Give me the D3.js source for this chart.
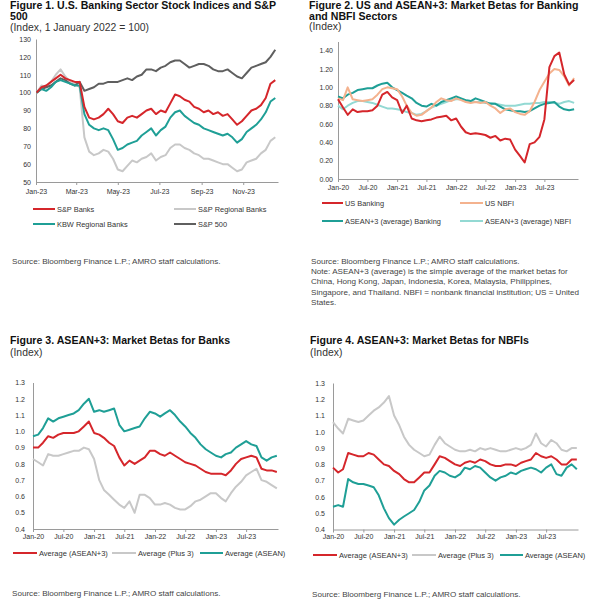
<!DOCTYPE html>
<html><head><meta charset="utf-8">
<script src="https://cdn.jsdelivr.net/npm/d3@7"></script>
<style>
body{margin:0;background:#fff}
svg{display:block}
text{font-family:"Liberation Sans",Arial,Helvetica,sans-serif}
</style>
</head><body>
<svg id="c" width="600" height="600"></svg>
<script>
// ---------- Figure 1 data (weekly, 2023; index 1 Jan 2022 = 100) ----------
const fig1Start = new Date(2023, 0, 2);
const fig1SPBanks = [100,103,104,106,108,110,108,107,106,106,92,86,85,86,88,91,88,84,83,86,87,86,88,90,91,88,90,89,94,99,98,96,95,92,91,89,90,88,89,87,88,85,82,84,87,90,91,93,97,105,107];
const fig1KBW = [100,102,101,103,106,107,106,105,104,104,88,82,80,79,80,79,74,68,69,71,72,73,76,78,80,76,79,81,86,89,90,87,85,83,82,80,79,78,77,76,77,75,72,74,78,80,82,85,89,95,97];
const fig1SPRegional = [100,104,103,106,110,113,109,106,105,103,75,67,65,66,68,67,63,57,56,59,62,61,63,64,66,62,64,65,69,71,71,69,68,66,65,63,63,62,61,60,60,58,56,57,61,62,63,66,68,73,75];
const fig1SP500 = [100,102,103,104,106,108,107,105,104,106,101,102,103,105,105,106,106,106,107,108,107,109,110,113,113,112,114,115,117,118,118,116,114,115,116,116,115,113,112,112,113,111,109,108,111,114,115,116,117,120,124];
const fig1YTicks = [50,60,70,80,90,100,110,120,130];
const fig1XTicks = ["2023-01-01","2023-03-01","2023-05-01","2023-07-01","2023-09-01","2023-11-01"];

// ---------- Figure 2 data (monthly, Jan 2020 - Jan 2024) ----------
const fig2USBanking = [0.87,0.78,0.70,0.76,0.73,0.74,0.74,0.75,0.80,0.92,0.95,0.89,0.86,0.72,0.80,0.66,0.64,0.63,0.64,0.65,0.67,0.68,0.69,0.64,0.66,0.57,0.51,0.49,0.50,0.49,0.48,0.45,0.47,0.42,0.44,0.43,0.32,0.25,0.18,0.38,0.40,0.46,0.65,1.22,1.34,1.38,1.14,1.03,1.08];
const fig2USNBFI = [0.88,0.86,1.00,0.87,0.86,0.85,0.86,0.87,0.92,0.98,1.00,0.99,0.98,0.90,0.80,0.72,0.69,0.70,0.74,0.78,0.84,0.88,0.86,0.85,0.88,0.86,0.84,0.83,0.84,0.83,0.84,0.80,0.77,0.72,0.76,0.77,0.73,0.71,0.70,0.74,0.84,0.97,1.06,1.15,1.20,1.19,1.12,1.02,1.10];
const fig2ASEANBanking = [0.90,0.88,0.92,0.94,0.97,0.98,0.99,0.99,1.02,1.04,1.05,1.00,0.97,0.94,0.91,0.88,0.83,0.80,0.79,0.82,0.80,0.84,0.86,0.88,0.90,0.88,0.86,0.85,0.88,0.86,0.84,0.82,0.82,0.79,0.76,0.75,0.74,0.74,0.73,0.74,0.77,0.80,0.82,0.83,0.84,0.79,0.76,0.75,0.76];
const fig2ASEANNBFI = [0.80,0.76,0.80,0.83,0.85,0.85,0.84,0.83,0.81,0.79,0.77,0.77,0.76,0.75,0.73,0.72,0.70,0.71,0.74,0.78,0.80,0.82,0.84,0.86,0.87,0.87,0.86,0.85,0.84,0.84,0.83,0.83,0.82,0.81,0.80,0.80,0.80,0.81,0.82,0.82,0.83,0.83,0.84,0.84,0.83,0.82,0.84,0.85,0.83];
const fig2YTicks = [0,0.2,0.4,0.6,0.8,1.0,1.2,1.4];

// ---------- Figure 3 data: banks (monthly) ----------
const fig3AseanPlus3 = [0.90,0.90,0.93,0.97,0.96,0.98,0.99,0.99,0.99,1.00,1.03,1.06,0.99,0.98,0.96,0.93,0.91,0.84,0.79,0.82,0.80,0.82,0.84,0.88,0.88,0.86,0.85,0.87,0.85,0.83,0.81,0.80,0.79,0.77,0.75,0.74,0.74,0.74,0.73,0.76,0.80,0.83,0.84,0.85,0.84,0.77,0.76,0.76,0.75];
const fig3Plus3 = [0.83,0.81,0.79,0.86,0.85,0.85,0.86,0.87,0.88,0.88,0.90,0.89,0.83,0.70,0.64,0.61,0.58,0.55,0.53,0.57,0.50,0.61,0.61,0.59,0.55,0.55,0.56,0.55,0.53,0.52,0.52,0.54,0.57,0.58,0.60,0.62,0.62,0.59,0.57,0.62,0.66,0.69,0.73,0.75,0.77,0.70,0.69,0.67,0.65];
const fig3Asean = [0.97,0.98,1.02,1.08,1.06,1.08,1.09,1.10,1.11,1.13,1.17,1.20,1.12,1.13,1.12,1.13,1.14,1.04,1.00,1.01,1.02,1.03,1.08,1.12,1.11,1.09,1.11,1.13,1.10,1.06,1.03,0.99,0.96,0.92,0.89,0.87,0.85,0.84,0.86,0.87,0.90,0.92,0.94,0.92,0.91,0.84,0.82,0.84,0.85];

// ---------- Figure 4 data: NBFIs (monthly) ----------
const fig4AseanPlus3 = [0.78,0.75,0.77,0.87,0.86,0.85,0.85,0.87,0.86,0.83,0.80,0.79,0.76,0.74,0.71,0.69,0.69,0.72,0.75,0.75,0.80,0.85,0.84,0.82,0.80,0.79,0.81,0.82,0.81,0.83,0.82,0.80,0.79,0.79,0.80,0.80,0.79,0.81,0.82,0.83,0.87,0.85,0.84,0.85,0.83,0.80,0.80,0.83,0.83];
const fig4Plus3 = [1.06,1.02,0.99,1.08,1.07,1.06,1.07,1.10,1.13,1.15,1.18,1.22,1.10,1.04,0.97,0.92,0.89,0.87,0.85,0.86,0.92,0.97,0.93,0.91,0.89,0.88,0.88,0.89,0.88,0.90,0.89,0.90,0.89,0.88,0.88,0.89,0.90,0.89,0.90,0.92,0.99,0.93,0.91,0.95,0.93,0.89,0.88,0.90,0.90];
const fig4Asean = [0.54,0.55,0.54,0.71,0.69,0.68,0.68,0.67,0.66,0.61,0.53,0.47,0.43,0.46,0.48,0.50,0.52,0.57,0.64,0.67,0.73,0.76,0.75,0.73,0.72,0.74,0.78,0.77,0.79,0.78,0.75,0.72,0.70,0.72,0.73,0.75,0.74,0.76,0.77,0.78,0.77,0.75,0.78,0.80,0.74,0.73,0.78,0.80,0.77];
const fig34YTicks = [0.4,0.5,0.6,0.7,0.8,0.9,1.0,1.1,1.2,1.3];
const betaXTicks = ["2020-01-01","2020-07-01","2021-01-01","2021-07-01","2022-01-01","2022-07-01","2023-01-01","2023-07-01"];

// ---------- colours ----------
const RED = "#d5262b", TEAL = "#1f9f96", LGRAY = "#c8c8c8", DGRAY = "#5f5f5f", PEACH = "#f4b28e", CYAN = "#93d9d3";

// ---------- helpers ----------
const svg = d3.select("#c");
const parse = d3.timeParse("%Y-%m-%d");
const fmtMon = d3.timeFormat("%b-%y");
const fig1Dates = fig1SPBanks.map((_, i) => d3.timeDay.offset(fig1Start, 7 * i));
const monthDates = fig2USBanking.map((_, i) => new Date(2020, i, 1));

function panel(cfg) {
  const g = svg.append("g");
  const x = d3.scaleTime().domain(cfg.xDomain).range([cfg.x0, cfg.x1]);
  const y = d3.scaleLinear().domain(cfg.yDomain).range([cfg.yBot, cfg.yTop]);

  const ax = g.append("g").attr("transform", `translate(0,${cfg.yBot})`)
    .call(d3.axisBottom(x).tickValues(cfg.xTicks.map(parse)).tickFormat(fmtMon)
      .tickSize(3).tickSizeOuter(0).tickPadding(cfg.xPad));
  const ay = g.append("g").attr("transform", `translate(${cfg.x0},0)`)
    .call(d3.axisLeft(y).tickValues(cfg.yTicks).tickFormat(cfg.yFmt)
      .tickSize(0).tickSizeOuter(0).tickPadding(cfg.yPad));
  [ax, ay].forEach(a => {
    a.select(".domain").attr("stroke", "#9a9a9a").attr("stroke-width", 1);
    a.selectAll(".tick line").attr("stroke", "#9a9a9a");
    a.selectAll(".tick text").attr("font-size", 7).attr("fill", "#333")
      .attr("font-family", '"Liberation Sans",Arial,sans-serif');
  });

  const line = d3.line().x(d => x(d[0])).y(d => y(d[1]));
  cfg.series.forEach(s => {
    g.append("path").datum(cfg.dates.map((d, i) => [d, s.values[i]]))
      .attr("fill", "none").attr("stroke", s.color).attr("stroke-width", 2)
      .attr("stroke-linejoin", "round").attr("d", line);
  });

  cfg.legend.forEach(l => {
    g.append("line").attr("x1", l.lx0).attr("x2", l.lx1).attr("y1", l.ly).attr("y2", l.ly)
      .attr("stroke", l.color).attr("stroke-width", 2);
    g.append("text").attr("x", l.lx1 + 2).attr("y", l.ly + 2.6)
      .attr("font-size", cfg.legendSize).attr("fill", "#333").text(l.label);
  });

  cfg.title.forEach((t, i) => {
    g.append("text").attr("x", cfg.tx).attr("y", cfg.ty + i * 11.4)
      .attr("font-size", 10.6).attr("font-weight", "bold").attr("fill", "#111").text(t);
  });
  g.append("text").attr("x", cfg.tx).attr("y", cfg.sy)
    .attr("font-size", 10.4).attr("fill", "#333").text(cfg.subtitle);

  cfg.notes.forEach((t, i) => {
    g.append("text").attr("x", cfg.tx + 2).attr("y", cfg.ny + i * 10.2)
      .attr("font-size", 8.1).attr("fill", "#444").text(t);
  });
}

const src = "Source: Bloomberg Finance L.P.; AMRO staff calculations.";

// Figure 1
panel({
  x0: 36, x1: 278, yTop: 39, yBot: 182, xPad: 4, yPad: 5,
  xDomain: [new Date(2023, 0, 1), new Date(2023, 11, 22)], yDomain: [50, 130],
  xTicks: fig1XTicks, yTicks: fig1YTicks, yFmt: d3.format("d"),
  dates: fig1Dates,
  series: [
    {values: fig1SPRegional, color: LGRAY},
    {values: fig1SP500, color: DGRAY},
    {values: fig1KBW, color: TEAL},
    {values: fig1SPBanks, color: RED}
  ],
  legendSize: 7.4,
  legend: [
    {label: "S&P Banks", color: RED, lx0: 33, lx1: 55, ly: 209},
    {label: "S&P Regional Banks", color: LGRAY, lx0: 174, lx1: 196, ly: 209},
    {label: "KBW Regional Banks", color: TEAL, lx0: 33, lx1: 55, ly: 224},
    {label: "S&P 500", color: DGRAY, lx0: 174, lx1: 196, ly: 224}
  ],
  tx: 10, ty: 8.5, title: ["Figure 1. U.S. Banking Sector Stock Indices and S&P", "500"],
  sy: 30.5, subtitle: "(Index, 1 January 2022 = 100)",
  ny: 264, notes: [src]
});

// Figure 2
panel({
  x0: 338, x1: 578, yTop: 41.5, yBot: 179, xPad: 3, yPad: 5,
  xDomain: [new Date(2020, 0, 1), new Date(2024, 0, 25)], yDomain: [0, 1.5],
  xTicks: betaXTicks, yTicks: fig2YTicks, yFmt: d3.format(".2f"),
  dates: monthDates,
  series: [
    {values: fig2ASEANNBFI, color: CYAN},
    {values: fig2ASEANBanking, color: TEAL},
    {values: fig2USNBFI, color: PEACH},
    {values: fig2USBanking, color: RED}
  ],
  legendSize: 7.4,
  legend: [
    {label: "US Banking", color: RED, lx0: 322, lx1: 343, ly: 203},
    {label: "US NBFI", color: PEACH, lx0: 460, lx1: 483, ly: 203},
    {label: "ASEAN+3 (average) Banking", color: TEAL, lx0: 322, lx1: 343, ly: 221},
    {label: "ASEAN+3 (average) NBFI", color: CYAN, lx0: 460, lx1: 483, ly: 221}
  ],
  tx: 309, ty: 8.5, title: ["Figure 2. US and ASEAN+3: Market Betas for Banking", "and NBFI Sectors"],
  sy: 30, subtitle: "(Index)",
  ny: 264, notes: [src,
    "Note: ASEAN+3 (average) is the simple average of the market betas for",
    "China, Hong Kong, Japan, Indonesia, Korea, Malaysia, Philippines,",
    "Singapore, and Thailand. NBFI = nonbank financial institution; US = United",
    "States."]
});

// Figure 3
panel({
  x0: 33, x1: 278, yTop: 382.5, yBot: 529, xPad: 2, yPad: 8,
  xDomain: [new Date(2020, 0, 1), new Date(2024, 0, 8)], yDomain: [0.4, 1.3],
  xTicks: betaXTicks, yTicks: fig34YTicks, yFmt: d3.format(".1f"),
  dates: monthDates,
  series: [
    {values: fig3Plus3, color: LGRAY},
    {values: fig3Asean, color: TEAL},
    {values: fig3AseanPlus3, color: RED}
  ],
  legendSize: 7.5,
  legend: [
    {label: "Average (ASEAN+3)", color: RED, lx0: 13, lx1: 37, ly: 553},
    {label: "Average (Plus 3)", color: LGRAY, lx0: 112, lx1: 136, ly: 553},
    {label: "Average (ASEAN)", color: TEAL, lx0: 200, lx1: 223, ly: 553}
  ],
  tx: 10, ty: 344, title: ["Figure 3. ASEAN+3: Market Betas for Banks"],
  sy: 356, subtitle: "(Index)",
  ny: 596, notes: [src]
});

// Figure 4
panel({
  x0: 333, x1: 578, yTop: 383, yBot: 529.5, xPad: 2, yPad: 8,
  xDomain: [new Date(2020, 0, 1), new Date(2024, 0, 8)], yDomain: [0.4, 1.3],
  xTicks: betaXTicks, yTicks: fig34YTicks, yFmt: d3.format(".1f"),
  dates: monthDates,
  series: [
    {values: fig4Plus3, color: LGRAY},
    {values: fig4Asean, color: TEAL},
    {values: fig4AseanPlus3, color: RED}
  ],
  legendSize: 7.5,
  legend: [
    {label: "Average (ASEAN+3)", color: RED, lx0: 313, lx1: 337, ly: 555},
    {label: "Average (Plus 3)", color: LGRAY, lx0: 412, lx1: 436, ly: 555},
    {label: "Average (ASEAN)", color: TEAL, lx0: 500, lx1: 523, ly: 555}
  ],
  tx: 310, ty: 344, title: ["Figure 4. ASEAN+3: Market Betas for NBFIs"],
  sy: 356, subtitle: "(Index)",
  ny: 597, notes: [src]
});
</script>
</body></html>
